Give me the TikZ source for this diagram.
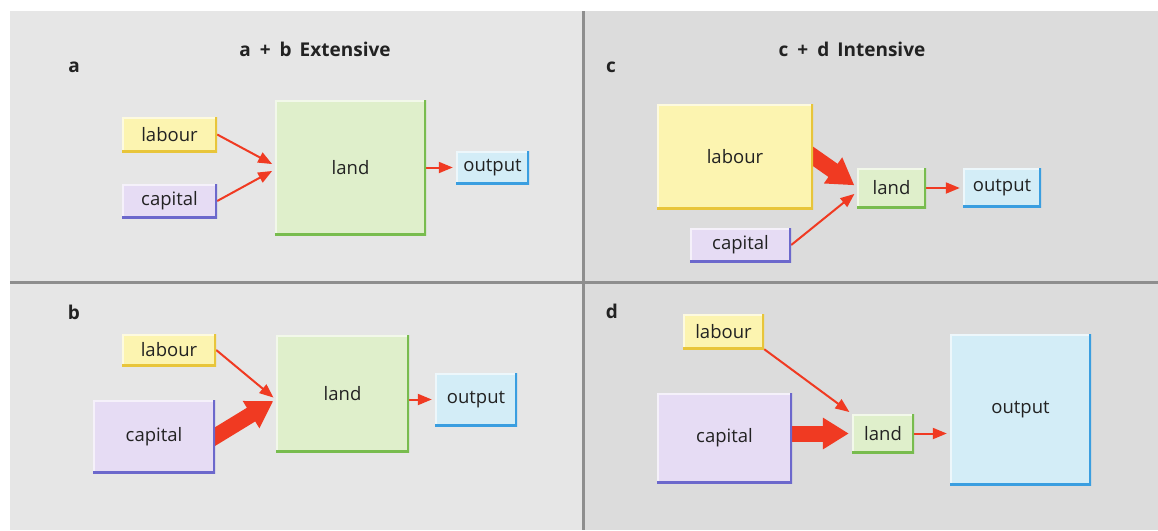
\documentclass[tikz,border=0pt]{standalone}
\usepackage{fontspec}
\setmainfont{Open Sans}
\usetikzlibrary{arrows.meta,calc}

\definecolor{paneleft}{HTML}{E6E6E6}
\definecolor{paneright}{HTML}{DCDCDC}
\definecolor{divider}{HTML}{8E8E8E}
\definecolor{ink}{HTML}{222222}
\definecolor{flowred}{HTML}{F03A22}
\definecolor{labfill}{HTML}{FCF4B0}
\definecolor{labedge}{HTML}{E8C53A}
\definecolor{capfill}{HTML}{E6DCF4}
\definecolor{capedge}{HTML}{6C68CC}
\definecolor{landfill}{HTML}{DFEFCB}
\definecolor{landedge}{HTML}{78BC4E}
\definecolor{outfill}{HTML}{D3EDF7}
\definecolor{outedge}{HTML}{3A9EE0}

\pgfdeclarelayer{back}
\pgfdeclarelayer{flows}
\pgfsetlayers{back,flows,main}

\begin{document}
\begin{tikzpicture}[x=1pt,y=-1pt,
  box/.style 2 args={fill=#1, draw=none, inner sep=0pt, text=ink,
    font=\fontsize{18.5}{20}\selectfont,
    path picture={
      \draw[white,opacity=0.6,line width=3pt]
        (path picture bounding box.south west) -- (path picture bounding box.north west)
        -- (path picture bounding box.north east);
      \draw[#2,line width=4pt]
        (path picture bounding box.north east) -- (path picture bounding box.south east)
        -- (path picture bounding box.south west);}},
  labourbox/.style={box={labfill}{labedge}},
  capitalbox/.style={box={capfill}{capedge}},
  landbox/.style={box={landfill}{landedge}},
  outputbox/.style={box={outfill}{outedge}},
  boxsize/.style 2 args={minimum width=#1pt, minimum height=#2pt},
  flow/.style={draw=flowred, line width=2pt, shorten >=3pt,
    -{Triangle[length=14pt,width=11pt]}},
  fatflow/.style={draw=flowred, line width=16pt, shorten >=3pt,
    -{Triangle[length=26pt,width=30pt]}},
  heading/.style={font=\fontsize{19}{21}\bfseries, text=ink},
  tag/.style={font=\fontsize{19}{21}\bfseries, text=ink},
]
\useasboundingbox (0,0) rectangle (1158,530);

% panel backgrounds and dividers
\begin{pgfonlayer}{back}
  \fill[white] (0,0) rectangle (1158,530);
  \fill[paneleft] (10,11) rectangle (584,530);
  \fill[paneright] (584,11) rectangle (1158,530);
  \draw[divider,line width=3pt] (583.5,11) -- (583.5,530);
  \draw[divider,line width=3pt] (10,282) -- (1158,282);
\end{pgfonlayer}

% headings and panel letters
\node[heading] (hext) at (315,49) {a\hspace{9pt}+\hspace{9pt}b\hspace{8pt}Extensive};
\node[heading] (hint) at (852,49) {c\hspace{9pt}+\hspace{9pt}d\hspace{8pt}Intensive};
\node[tag] (ta) at (74,67) {a};
\node[tag] (tb) at (74,312) {b};
\node[tag] (tc) at (611,67) {c};
\node[tag] (td) at (612,311) {d};

% panel a
\node[labourbox, boxsize={95}{35}] (alab) at (169.5,134.5) {labour};
\node[capitalbox, boxsize={95}{34}] (acap) at (169.5,201) {capital};
\node[landbox, boxsize={151}{135}] (aland) at (350.5,167.5) {land};
\node[outputbox, boxsize={73}{33}] (aout) at (492.5,167.5) {output};

% panel b
\node[labourbox, boxsize={94}{32}] (blab) at (169,350) {labour};
\node[capitalbox, boxsize={122}{73}] (bcap) at (154,436.5) {capital};
\node[landbox, boxsize={133}{117}] (bland) at (342.5,393.5) {land};
\node[outputbox, boxsize={82}{53}] (bout) at (476,399.5) {output};

% panel c
\node[labourbox, boxsize={156}{105}] (clab) at (735,156.5) {labour};
\node[capitalbox, boxsize={101}{34}] (ccap) at (740.5,245) {capital};
\node[landbox, boxsize={69}{40}] (cland) at (891.5,188) {land};
\node[outputbox, boxsize={78}{39}] (cout) at (1002,187.5) {output};

% panel d
\node[labourbox, boxsize={81}{35}] (dlab) at (723.5,331.5) {labour};
\node[capitalbox, boxsize={135}{90}] (dcap) at (724.5,438) {capital};
\node[landbox, boxsize={62}{39}] (dland) at (883,433.5) {land};
\node[outputbox, boxsize={141}{151}] (dout) at (1020.5,409.5) {output};

% flow arrows, kept under the boxes
\coordinate (atop) at ([yshift=2pt]aland.west);
\coordinate (abot) at ([yshift=-2pt]aland.west);
\coordinate (btip) at ([yshift=-6pt]bland.west);
\coordinate (cfat) at ([yshift=1pt]cland.west);
\coordinate (cthin) at ([yshift=-4pt]cland.west);
\coordinate (dfat) at (dcap.east |- dland.west);
\begin{pgfonlayer}{flows}
  \draw[flow] (alab.east) -- (atop);
  \draw[flow] (acap.east) -- (abot);
  \draw[flow] (aland.east) -- (aout.west);

  \draw[flow] (blab.east) -- (btip);
  \draw[fatflow] ($(bcap.east)!-0.4!(btip)$) -- (btip);
  \draw[flow] (bland.east |- bout.west) -- (bout.west);

  \draw[fatflow] ($(clab.east)!-0.5!(cfat)$) -- (cfat);
  \draw[flow] (ccap.east) -- (cthin);
  \draw[flow] (cland.east) -- (cland.east -| cout.west);

  \draw[flow] (dlab.south east) -- (dland.north west);
  \draw[fatflow] ([xshift=-20pt]dfat) -- (dland.west);
  \draw[flow] (dland.east) -- (dland.east -| dout.west);
\end{pgfonlayer}
\end{tikzpicture}
\end{document}
